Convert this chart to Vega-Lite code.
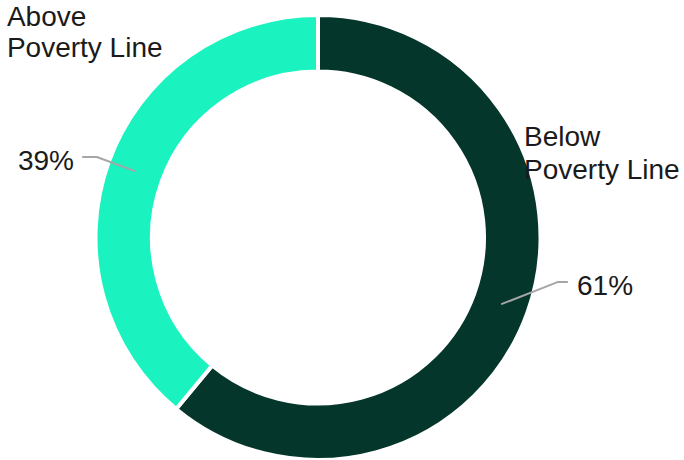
{
  "$schema": "https://vega.github.io/schema/vega-lite/v6.json",
  "width": 636,
  "height": 475,
  "autosize": {"type": "none"},
  "padding": {"left": 0, "top": 0, "right": 48, "bottom": 0},
  "background": "white",
  "config": {"view": {"stroke": null}, "text": {"font": "Liberation Sans"}},
  "data": {"values": [
    {"category": "Below Poverty Line", "label": "Below\n\u00a0Poverty Line", "share": 0.61, "order": 1},
    {"category": "Above Poverty Line", "label": "Above\nPoverty Line", "share": 0.39, "order": 2}
  ]},
  "layer": [
    {
      "mark": {"type": "arc", "outerRadius": 222.5, "innerRadius": 166, "stroke": "white", "strokeWidth": 4},
      "encoding": {
        "theta": {"field": "share", "type": "quantitative", "stack": true},
        "order": {"field": "order", "type": "quantitative"},
        "color": {"field": "category", "type": "nominal", "legend": null,
          "scale": {"domain": ["Below Poverty Line", "Above Poverty Line"], "range": ["#04362B", "#1AF2C0"]}}
      }
    },
    {
      "data": {"values": [{}]},
      "mark": {"type": "rule", "color": "#A6A6A6", "strokeWidth": 2, "strokeCap": "round"},
      "encoding": {
        "x": {"datum": 83.6, "type": "quantitative", "scale": {"domain": [-144.5, 144.5], "nice": false, "zero": false}, "axis": null},
        "y": {"datum": -30.2, "type": "quantitative", "scale": {"domain": [-108, 108], "nice": false, "zero": false}, "axis": null},
        "x2": {"datum": 109.1},
        "y2": {"datum": -20.2}
      }
    },
    {
      "data": {"values": [{}]},
      "mark": {"type": "rule", "color": "#A6A6A6", "strokeWidth": 2, "strokeCap": "round"},
      "encoding": {
        "x": {"datum": 109.1, "type": "quantitative"},
        "y": {"datum": -20.2, "type": "quantitative"},
        "x2": {"datum": 113.2},
        "y2": {"datum": -20.2}
      }
    },
    {
      "data": {"values": [{}]},
      "mark": {"type": "rule", "color": "#A6A6A6", "strokeWidth": 2, "strokeCap": "round"},
      "encoding": {
        "x": {"datum": -83.2, "type": "quantitative"},
        "y": {"datum": 30.2, "type": "quantitative"},
        "x2": {"datum": -100.5},
        "y2": {"datum": 36.6}
      }
    },
    {
      "data": {"values": [{}]},
      "mark": {"type": "rule", "color": "#A6A6A6", "strokeWidth": 2, "strokeCap": "round"},
      "encoding": {
        "x": {"datum": -100.5, "type": "quantitative"},
        "y": {"datum": 36.6, "type": "quantitative"},
        "x2": {"datum": -106.8},
        "y2": {"datum": 36.6}
      }
    },
    {
      "mark": {"type": "text", "radius": 193, "fontSize": 28, "color": "#1a1a1a", "align": "left", "baseline": "alphabetic", "dx": 77.4, "dy": -7.9},
      "encoding": {
        "theta": {"field": "share", "type": "quantitative", "stack": true},
        "order": {"field": "order", "type": "quantitative"},
        "text": {"condition": {"test": "datum.category === 'Below Poverty Line'", "field": "share", "format": ".0%"}, "value": ""}
      }
    },
    {
      "mark": {"type": "text", "radius": 193, "fontSize": 28, "color": "#1a1a1a", "align": "right", "baseline": "alphabetic", "dx": -62.4, "dy": -2.1},
      "encoding": {
        "theta": {"field": "share", "type": "quantitative", "stack": true},
        "order": {"field": "order", "type": "quantitative"},
        "text": {"condition": {"test": "datum.category === 'Above Poverty Line'", "field": "share", "format": ".0%"}, "value": ""}
      }
    },
    {
      "mark": {"type": "text", "radius": 193, "fontSize": 28, "color": "#1a1a1a", "align": "left", "baseline": "alphabetic", "lineBreak": "\n", "lineHeight": 33, "dx": 24.4, "dy": -157.2},
      "encoding": {
        "theta": {"field": "share", "type": "quantitative", "stack": true},
        "order": {"field": "order", "type": "quantitative"},
        "text": {"condition": {"test": "datum.category === 'Below Poverty Line'", "field": "label"}, "value": ""}
      }
    },
    {
      "mark": {"type": "text", "radius": 193, "fontSize": 28, "color": "#1a1a1a", "align": "left", "baseline": "alphabetic", "lineBreak": "\n", "lineHeight": 31, "dx": -129.5, "dy": -146},
      "encoding": {
        "theta": {"field": "share", "type": "quantitative", "stack": true},
        "order": {"field": "order", "type": "quantitative"},
        "text": {"condition": {"test": "datum.category === 'Above Poverty Line'", "field": "label"}, "value": ""}
      }
    }
  ]
}
